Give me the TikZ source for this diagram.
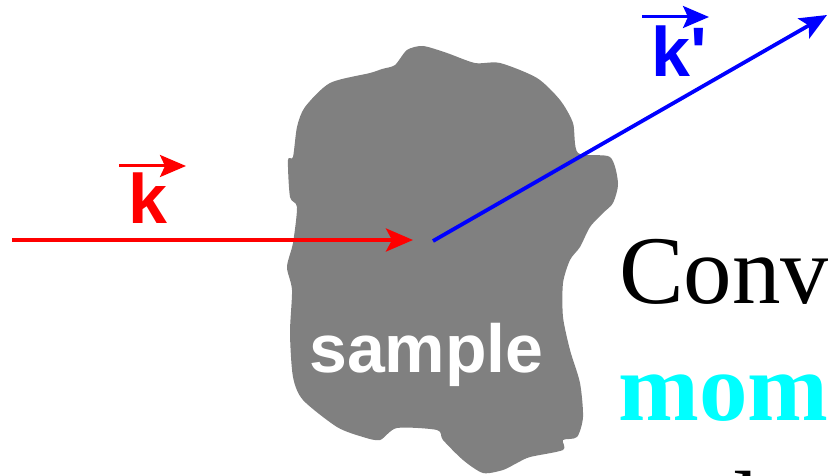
\documentclass[tikz,border=0pt]{standalone}
\usepackage{fontspec}
\usetikzlibrary{arrows.meta}
\newfontfamily\labsans{Liberation Sans}
\newfontfamily\labserif{Liberation Serif}
\definecolor{pcyan}{RGB}{0,255,255}
\definecolor{pred}{RGB}{255,0,0}
\definecolor{pblue}{RGB}{0,0,255}
\definecolor{pgray}{RGB}{128,128,128}
\begin{document}
\begin{tikzpicture}[x=1pt,y=-1pt,
  bigtip/.style={-{Stealth[length=27pt,width=23pt,inset=6pt]}},
  smalltip/.style={-{Stealth[length=26pt,width=22pt,inset=5pt]}},
  beam/.style={line width=3.8pt},
  veclab/.style={inner sep=0pt,anchor=base west,font=\labsans\bfseries\fontsize{70}{70}\selectfont},
  txtlab/.style={inner sep=0pt,anchor=base west}]
\useasboundingbox (0,0) rectangle (828,476);
% sample blob
\fill[pgray] plot[smooth cycle,tension=0.45] coordinates {
(395,65) (407,50) (423,46) (447,53) (475,63) (500,63) (537,78) (560,100) (573,123) (578,153)
(610,157) (618,183) (613,203) (603,213) (590,227) (580,247) (570,260) (563,283) (563,317)
(570,350) (580,383) (583,417) (577,437) (563,440) (563,450) (530,457) (517,463) (503,470)
(483,473) (463,460) (443,440) (437,430) (397,428) (380,440) (363,437) (337,427) (303,400)
(293,377) (290,333) (292,290) (287,267) (293,243) (297,207) (290,197) (288,160) (293,157)
(297,127) (305,107) (330,83) (370,73) (382,69)};
\node[txtlab,text=white,font=\labsans\bfseries\fontsize{68}{68}\selectfont] (sample) at (309,372) {sample};
% incoming beam
\coordinate (kin) at (12,240);
\coordinate (hit) at (413,240);
\draw[beam,pred,bigtip] (kin) -- (hit);
% outgoing beam
\coordinate (kout0) at (433,241);
\coordinate (kout1) at (827,15);
\draw[beam,pblue,bigtip] (kout0) -- (kout1);
% labels
\node[veclab,text=pred] (k) at (128,223) {k};
\coordinate (ka) at (119,166);
\coordinate (kb) at (186,166);
\draw[line width=3pt,pred,smalltip] (ka) -- (kb);
\node[veclab,text=pblue] (kp) at (651,77) {k'};
\coordinate (kpa) at (642,17);
\coordinate (kpb) at (709,17);
\draw[line width=3pt,pblue,smalltip] (kpa) -- (kpb);
% text on right
\node[txtlab,font=\labserif\fontsize{97}{97}\selectfont] (conv) at (619,303) {Conv};
\node[txtlab,text=pcyan,font=\labserif\bfseries\fontsize{97}{97}\selectfont] (mom) at (618,420) {mom};
\node[txtlab,font=\labserif\fontsize{97}{97}\selectfont] (third) at (733,538) {l};
\end{tikzpicture}
\end{document}
